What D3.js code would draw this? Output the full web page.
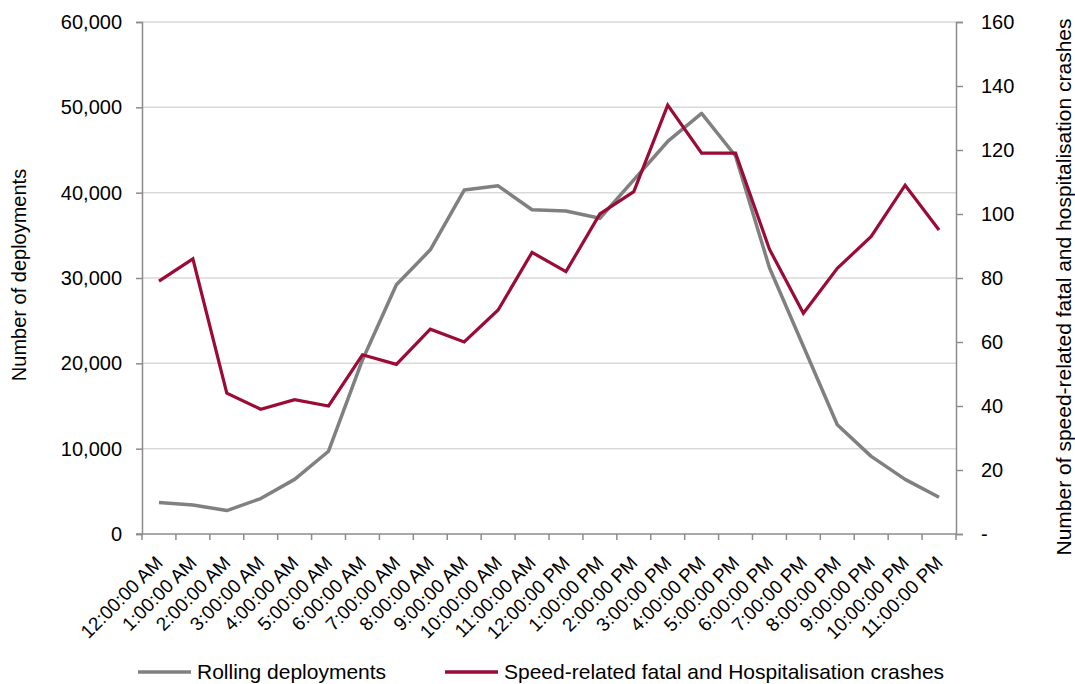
<!DOCTYPE html>
<html>
<head>
<meta charset="utf-8">
<script src="https://cdn.jsdelivr.net/npm/d3@7"></script>
<style>
  html, body { margin: 0; padding: 0; background: #fff; }
  svg { display: block; font-family: "Liberation Sans", Arial, sans-serif; }
</style>
</head>
<body>
<svg id="chart" width="1075" height="684"></svg>
<script>
const categories = ["12:00:00 AM","1:00:00 AM","2:00:00 AM","3:00:00 AM","4:00:00 AM","5:00:00 AM",
  "6:00:00 AM","7:00:00 AM","8:00:00 AM","9:00:00 AM","10:00:00 AM","11:00:00 AM",
  "12:00:00 PM","1:00:00 PM","2:00:00 PM","3:00:00 PM","4:00:00 PM","5:00:00 PM",
  "6:00:00 PM","7:00:00 PM","8:00:00 PM","9:00:00 PM","10:00:00 PM","11:00:00 PM"];
const deployments = [3700, 3400, 2750, 4150, 6400, 9700, 20400, 29200, 33300, 40300, 40800, 38000,
  37850, 37000, 41500, 46000, 49300, 44300, 31200, 22000, 12800, 9100, 6400, 4300];
const crashes = [79, 86, 44, 39, 42, 40, 56, 53, 64, 60, 70, 88,
  82, 100, 107, 134, 119, 119, 89, 69, 83, 93, 109, 95];
const leftTicks = [0, 10000, 20000, 30000, 40000, 50000, 60000];
const rightTicks = [0, 20, 40, 60, 80, 100, 120, 140, 160];
const seriesNames = ["Rolling deployments", "Speed-related fatal and Hospitalisation crashes"];

const svg = d3.select("#chart");
const m = { left: 142, right: 956, top: 22, bottom: 534 };
const axisColor = "#8c8c8c", gridColor = "#d9d9d9";
const grayColor = "#808080", redColor = "#9b0b36";
const fs = 20;

const x = d3.scaleBand().domain(categories).range([m.left, m.right]).padding(0);
const yL = d3.scaleLinear().domain([0, 60000]).range([m.bottom, m.top]);
const yR = d3.scaleLinear().domain([0, 160]).range([m.bottom, m.top]);

// gridlines
svg.append("g").selectAll("line").data(leftTicks.filter(d => d > 0)).join("line")
  .attr("x1", m.left).attr("x2", m.right)
  .attr("y1", d => yL(d)).attr("y2", d => yL(d))
  .attr("stroke", gridColor).attr("stroke-width", 1.5);

// left axis
const gL = svg.append("g").attr("transform", `translate(${m.left},0)`)
  .call(d3.axisLeft(yL).tickValues(leftTicks).tickSize(6).tickPadding(14).tickFormat(d3.format(",")));
gL.select(".domain").attr("stroke", axisColor).attr("stroke-width", 1.5);
gL.selectAll(".tick line").attr("stroke", axisColor).attr("stroke-width", 1.5);
gL.selectAll(".tick text").attr("font-size", fs).attr("fill", "#000").attr("font-family", "Liberation Sans, Arial, sans-serif");

// right axis
const gR = svg.append("g").attr("transform", `translate(${m.right},0)`)
  .call(d3.axisRight(yR).tickValues(rightTicks).tickSize(7).tickPadding(18).tickFormat(d => d === 0 ? "-" : d));
gR.select(".domain").attr("stroke", axisColor).attr("stroke-width", 1.5);
gR.selectAll(".tick line").attr("stroke", axisColor).attr("stroke-width", 1.5);
gR.selectAll(".tick text").attr("font-size", fs).attr("fill", "#000").attr("font-family", "Liberation Sans, Arial, sans-serif");

// bottom axis: ticks at category boundaries
const boundaries = categories.map(c => x(c)).concat([m.right]);
const gB = svg.append("g");
gB.append("line").attr("x1", m.left - 6).attr("x2", m.right + 1).attr("y1", m.bottom).attr("y2", m.bottom)
  .attr("stroke", axisColor).attr("stroke-width", 1.5);
gB.selectAll("line.t").data(boundaries).join("line").attr("class", "t")
  .attr("x1", d => d).attr("x2", d => d).attr("y1", m.bottom).attr("y2", m.bottom + 6)
  .attr("stroke", axisColor).attr("stroke-width", 1.5);
gB.selectAll("text").data(categories).join("text")
  .attr("transform", d => `translate(${x(d) + x.bandwidth() / 2 + 5},${m.bottom + 30}) rotate(-45)`)
  .attr("text-anchor", "end")
  .attr("font-size", 19).attr("fill", "#000")
  .text(d => d);

// lines
const lineL = d3.line().x((d, i) => x(categories[i]) + x.bandwidth() / 2).y(d => yL(d));
const lineR = d3.line().x((d, i) => x(categories[i]) + x.bandwidth() / 2).y(d => yR(d));
svg.append("path").datum(deployments).attr("d", lineL).attr("fill", "none")
  .attr("stroke", grayColor).attr("stroke-width", 3.5).attr("stroke-linejoin", "round");
svg.append("path").datum(crashes).attr("d", lineR).attr("fill", "none")
  .attr("stroke", redColor).attr("stroke-width", 3.2).attr("stroke-linejoin", "miter");

// axis titles
svg.append("text").attr("transform", `translate(26,${(m.top + m.bottom) / 2 - 3}) rotate(-90)`)
  .attr("text-anchor", "middle").attr("font-size", fs).attr("fill", "#000").text("Number of deployments");
svg.append("text").attr("transform", `translate(1071,${(m.top + m.bottom) / 2 + 9}) rotate(-90)`)
  .attr("text-anchor", "middle").attr("font-size", 21).attr("fill", "#000")
  .text("Number of speed-related fatal and hospitalisation crashes");

// legend
const legend = [
  { name: seriesNames[0], color: grayColor, x: 138 },
  { name: seriesNames[1], color: redColor, x: 445 }
];
const lg = svg.append("g").selectAll("g").data(legend).join("g")
  .attr("transform", d => `translate(${d.x},672)`);
lg.append("line").attr("x1", 0).attr("x2", 53).attr("y1", 0).attr("y2", 0)
  .attr("stroke", d => d.color).attr("stroke-width", 3.5);
lg.append("text").attr("x", 59).attr("y", 7).attr("font-size", 21).attr("fill", "#000").text(d => d.name);
</script>
</body>
</html>
